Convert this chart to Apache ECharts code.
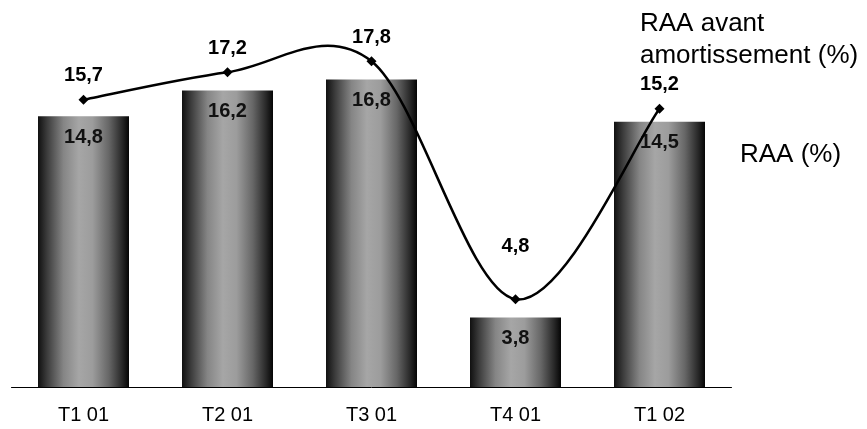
<!DOCTYPE html>
<html><head><meta charset="utf-8">
<script src="https://cdn.jsdelivr.net/npm/echarts@6/dist/echarts.min.js"></script>
<style>html,body{margin:0;padding:0;background:#fff}#c{width:867px;height:429px}</style>
</head><body><div id="c"></div>
<script>
const categories = ['T1 01', 'T2 01', 'T3 01', 'T4 01', 'T1 02'];
const raa = [14.8, 16.2, 16.8, 3.8, 14.5];
const raaAvant = [15.7, 17.2, 17.8, 4.8, 15.2];
const nameBar = 'RAA (%)';
const nameLine = 'RAA avant amortissement (%)';
const fmt = v => String(v).replace('.', ',');
const FONT = 'Arial, "Liberation Sans", sans-serif';

const chart = echarts.init(document.getElementById('c'), null, {renderer: 'canvas'});

// Smoothed curve (Catmull-Rom style, like a spreadsheet's smoothed line) built from data via the axes
function renderCurve(params, api) {
  const i = params.dataIndex;
  const n = raaAvant.length;
  if (i >= n - 1) return null;
  const P = k => api.coord([Math.max(0, Math.min(n - 1, k)), raaAvant[Math.max(0, Math.min(n - 1, k))]]);
  const p0 = P(i - 1), p1 = P(i), p2 = P(i + 1), p3 = P(i + 2);
  const t = 1 / 6;
  const c1 = [p1[0] + (p2[0] - p0[0]) * t, p1[1] + (p2[1] - p0[1]) * t];
  const c2 = [p2[0] - (p3[0] - p1[0]) * t, p2[1] - (p3[1] - p1[1]) * t];
  return {
    type: 'bezierCurve',
    shape: {x1: p1[0], y1: p1[1], cpx1: c1[0], cpy1: c1[1], cpx2: c2[0], cpy2: c2[1], x2: p2[0], y2: p2[1]},
    style: {stroke: '#000', lineWidth: 2.5, fill: null}
  };
}

chart.setOption({
  animation: false,
  backgroundColor: '#fff',
  textStyle: {fontFamily: FONT},
  grid: {left: 11.5, right: 135.5, top: 21, bottom: 42, containLabel: false},
  legend: [
    {data: [nameLine], left: 635, top: 8, padding: 0, icon: 'none', itemWidth: 0,
     formatter: n => n.replace(' amortissement', '\namortissement'),
     textStyle: {fontSize: 26, color: '#000', lineHeight: 32, fontFamily: FONT}},
    {data: [nameBar], left: 735, top: 140, padding: 0, icon: 'none', itemWidth: 0,
     textStyle: {fontSize: 26, color: '#000', lineHeight: 30, fontFamily: FONT}}
  ],
  xAxis: {type: 'category', data: categories, boundaryGap: true,
    axisLine: {lineStyle: {color: '#000', width: 1}}, axisTick: {show: false},
    axisLabel: {color: '#000', fontSize: 20, margin: 18, fontFamily: FONT}},
  yAxis: {type: 'value', min: 0, max: 20, show: false, splitLine: {show: false}},
  series: [
    {name: nameBar, type: 'bar', data: raa, barWidth: 91,
     itemStyle: {color: new echarts.graphic.LinearGradient(0, 0, 1, 0, [
       {offset: 0, color: '#101010'}, {offset: 0.1, color: '#3c3c3c'},
       {offset: 0.28, color: '#858585'}, {offset: 0.45, color: '#a6a6a6'},
       {offset: 0.6, color: '#9c9c9c'}, {offset: 0.78, color: '#666'},
       {offset: 0.92, color: '#2a2a2a'}, {offset: 1, color: '#050505'}])},
     label: {show: true, position: 'insideTop', distance: 11, color: '#111',
       fontSize: 20, fontWeight: 'bold', fontFamily: FONT, formatter: p => fmt(p.value)}},
    {name: nameLine + ' curve', type: 'custom', data: raaAvant.map((v, i) => [i, v]),
     renderItem: renderCurve, z: 4, silent: true, clip: false},
    {name: nameLine, type: 'line', data: raaAvant.map((v, i) => ({value: v,
       label: {distance: i === 3 ? 38 : 9}})),
     symbol: 'diamond', symbolSize: 10, z: 5,
     lineStyle: {color: '#000', width: 0, opacity: 0}, itemStyle: {color: '#000'},
     label: {show: true, position: 'top', color: '#000', fontSize: 20, fontWeight: 'bold',
       fontFamily: FONT, formatter: p => fmt(p.value)}}
  ]
});
</script></body></html>
